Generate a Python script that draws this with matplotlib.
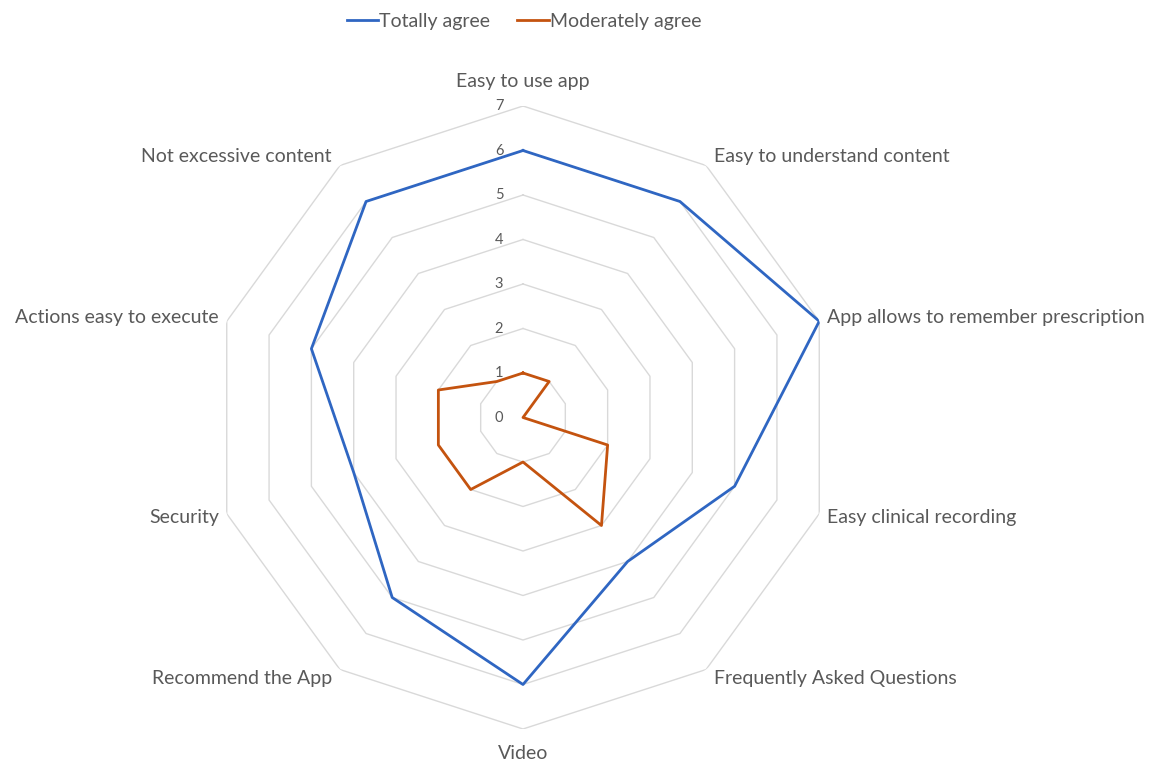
import numpy as np
import matplotlib
matplotlib.use('Agg')
import matplotlib.pyplot as plt

plt.rcParams['font.family'] = ['Lato', 'DejaVu Sans']

# 数据
categories = ['Easy to use app', 'Easy to understand content',
              'App allows to remember prescription', 'Easy clinical recording',
              'Frequently Asked Questions', 'Video', 'Recommend the App',
              'Security', 'Actions easy to execute', 'Not excessive content']
totally_agree = [6, 6, 7, 5, 4, 6, 5, 4, 5, 6]
moderately_agree = [1, 1, 0, 2, 3, 1, 2, 2, 2, 1]
levels = [0, 1, 2, 3, 4, 5, 6, 7]

blue = '#2F66C2'
orange = '#C4530F'
text_color = '#595959'
grid_color = '#D9D9D9'

n = len(categories)
angles = np.linspace(0, 2 * np.pi, n, endpoint=False)
closed = np.append(angles, angles[0])

fig = plt.figure(figsize=(11.57, 7.63), dpi=100)
W, H = 1157, 763
cx, cy, R = 523, 417.5, 311.5
ax = fig.add_axes([(cx - R) / W, 1 - (cy + R) / H, 2 * R / W, 2 * R / H],
                  projection='polar')
ax.set_theta_offset(np.pi / 2)
ax.set_theta_direction(-1)
ax.set_ylim(0, max(levels))
ax.grid(False)
ax.spines['polar'].set_visible(False)
ax.set_xticks([])
ax.set_yticks([])
ax.patch.set_alpha(0)

# 十边形网格
for lv in levels[1:]:
    ax.plot(closed, [lv] * (n + 1), color=grid_color, lw=1, zorder=1)

# 径向刻度标签
for lv in levels:
    ax.annotate(str(lv), xy=(0, lv), xytext=(-24, 0), textcoords='offset pixels',
                ha='center', va='center', fontsize=10.5, color=text_color)

# 数据线
ax.plot(closed, totally_agree + totally_agree[:1], color=blue, lw=2, zorder=3,
        label='Totally agree')
ax.plot(closed, moderately_agree + moderately_agree[:1], color=orange, lw=2, zorder=3,
        label='Moderately agree')

# 类别标签
for ang, cat in zip(angles, categories):
    s, c = np.sin(ang), np.cos(ang)
    if abs(s) < 0.01:
        ha = 'center'
        va = 'bottom' if c > 0 else 'top'
        off = (0, 16 * np.sign(c))
    else:
        ha = 'left' if s > 0 else 'right'
        va = 'center'
        off = (8 * np.sign(s), 11 * c)
    ax.annotate(cat, xy=(ang, max(levels)), xytext=off, textcoords='offset pixels',
                ha=ha, va=va, fontsize=14, color=text_color, annotation_clip=False)

leg = fig.legend(loc='upper center', bbox_to_anchor=(0.453, 1.006), ncol=2, frameon=False,
                 fontsize=14, handlelength=1.6, handletextpad=0.05, columnspacing=1.4)
for t in leg.get_texts():
    t.set_color(text_color)

fig.savefig('out.png', dpi=100)
